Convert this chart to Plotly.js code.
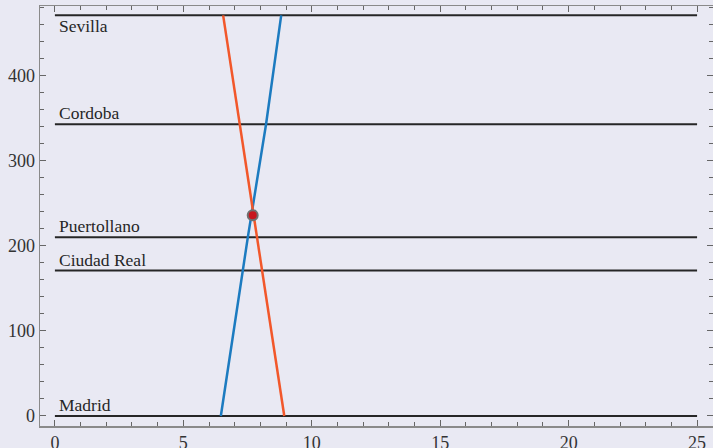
<!DOCTYPE html>
<html><head><meta charset="utf-8">
<script src="https://cdn.plot.ly/plotly-3.0.1.min.js"></script>
<style>html,body{margin:0;padding:0;background:#e9e9f3;}#chart{width:713px;height:448px;}</style>
</head><body><div id="chart"></div>
<script>
const stationNames = ["Madrid", "Ciudad Real", "Puertollano", "Cordoba", "Sevilla"];
const stationKm = [0, 171, 210, 343, 471];
const xSpan = [0, 25];
// Train leaving Madrid (blue)
const blueTime = [6.46, 7.31, 7.51, 8.22, 8.81];
const blueKm = [0, 171, 210, 343, 471];
// Train leaving Sevilla (orange)
const orangeTime = [6.55, 7.19, 7.87, 8.07, 8.93];
const orangeKm = [471, 343, 210, 171, 0];
// Meeting point
const meetTime = [7.7];
const meetKm = [236];

const serif = "Liberation Serif, Times New Roman, DejaVu Serif";
const traces = [];
stationKm.forEach((k) => {
  traces.push({x: xSpan, y: [k, k], mode: 'lines', line: {color: '#262626', width: 2}, hoverinfo: 'skip', showlegend: false});
});
traces.push({x: blueTime, y: blueKm, mode: 'lines', line: {color: '#1c7bc0', width: 2.5}, showlegend: false});
traces.push({x: orangeTime, y: orangeKm, mode: 'lines', line: {color: '#f2572a', width: 2.5}, showlegend: false});
traces.push({x: meetTime, y: meetKm, mode: 'markers', marker: {color: '#c8161e', size: 10, line: {color: '#707070', width: 2}}, showlegend: false});

const annotations = stationNames.map((n, i) => ({
  x: 0.1, y: stationKm[i], xref: 'x', yref: 'y', text: n, showarrow: false,
  xanchor: 'left', yanchor: i === stationNames.length - 1 ? 'top' : 'bottom',
  yshift: i === stationNames.length - 1 ? 1 : -1,
  font: {family: serif, size: 17.5, color: '#262626'}
}));

const axisCommon = {
  showgrid: false, zeroline: false, showline: true, linecolor: '#8a8a8a', linewidth: 1.5,
  ticks: 'inside', ticklen: 6, tickwidth: 1, tickcolor: '#666', mirror: 'ticks',
  tickfont: {family: serif, size: 18, color: '#333'}
};
const layout = {
  width: 713, height: 448,
  margin: {l: 40, r: 0, t: 6, b: 22},
  font: {family: serif},
  paper_bgcolor: '#e9e9f3', plot_bgcolor: '#e9e9f3',
  xaxis: Object.assign({}, axisCommon, {range: [-0.58, 25.62], tickvals: [0, 5, 10, 15, 20, 25],
    minor: {dtick: 1, ticks: 'inside', ticklen: 4, tickcolor: '#666', showgrid: false}}),
  yaxis: Object.assign({}, axisCommon, {range: [-11.8, 482], tickvals: [0, 100, 200, 300, 400],
    minor: {dtick: 20, ticks: 'inside', ticklen: 4, tickcolor: '#666', showgrid: false}}),
  annotations: annotations,
  showlegend: false
};
Plotly.newPlot('chart', traces, layout, {displayModeBar: false, staticPlot: true});
</script></body></html>
